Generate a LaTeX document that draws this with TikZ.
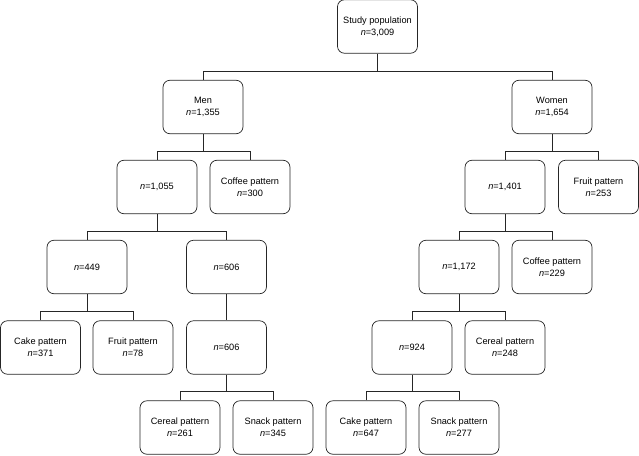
\documentclass[tikz,border=0pt]{standalone}
\usepackage{fontspec}
\setmainfont{Liberation Sans}
\usetikzlibrary{calc}
\begin{document}
\begin{tikzpicture}[x=1pt,y=1pt,
  box/.style={draw=black!85, line width=0.7pt, rounded corners=7pt, minimum width=80pt, minimum height=53.5pt, align=center, inner sep=1pt, font=\fontsize{9.2}{12.3}\selectfont},
  conn/.style={draw=black!85, line width=0.7pt}]
\useasboundingbox (0,0) rectangle (639,-455);
\newcommand\nn{\textit{n}=}
% row 1
\node[box] (root) at (377.5,-26.5) {Study population\\\nn3,009};
% row 2
\node[box] (men) at (203,-107) {Men\\\nn1,355};
\node[box] (women) at (552,-107) {Women\\\nn1,654};
% row 3
\node[box] (m1055) at (157,-187) {\nn1,055};
\node[box] (coffee300) at (250,-187) {Coffee pattern\\\nn300};
\node[box] (w1401) at (505,-187) {\nn1,401};
\node[box] (fruit253) at (598.5,-187) {Fruit pattern\\\nn253};
% row 4
\node[box] (m449) at (87,-267) {\nn449};
\node[box] (m606) at (226.5,-267) {\nn606};
\node[box] (w1172) at (459,-267) {\nn1,172};
\node[box] (coffee229) at (552,-267) {Coffee pattern\\\nn229};
% row 5
\node[box] (cake371) at (40.5,-347.5) {Cake pattern\\\nn371};
\node[box] (fruit78) at (133,-347.5) {Fruit pattern\\\nn78};
\node[box] (m606b) at (226.5,-347.5) {\nn606};
\node[box] (w924) at (412,-347.5) {\nn924};
\node[box] (cereal248) at (505,-347.5) {Cereal pattern\\\nn248};
% row 6
\node[box] (cereal261) at (180,-427.5) {Cereal pattern\\\nn261};
\node[box] (snack345) at (273,-427.5) {Snack pattern\\\nn345};
\node[box] (cake647) at (366,-427.5) {Cake pattern\\\nn647};
\node[box] (snack277) at (459,-427.5) {Snack pattern\\\nn277};
% connectors
\newcommand\branch[3]{%
  \draw[conn] (#1.south) -- ($(#1.south |- #2.north)+(0,9)$);
  \draw[conn] (#2.north) -- ++(0,9) -| (#3.north);}
\branch{root}{men}{women}
\branch{men}{m1055}{coffee300}
\branch{women}{w1401}{fruit253}
\branch{m1055}{m449}{m606}
\branch{w1401}{w1172}{coffee229}
\branch{m449}{cake371}{fruit78}
\draw[conn] (m606.south) -- (m606b.north);
\branch{w1172}{w924}{cereal248}
\branch{m606b}{cereal261}{snack345}
\branch{w924}{cake647}{snack277}
\end{tikzpicture}
\end{document}
